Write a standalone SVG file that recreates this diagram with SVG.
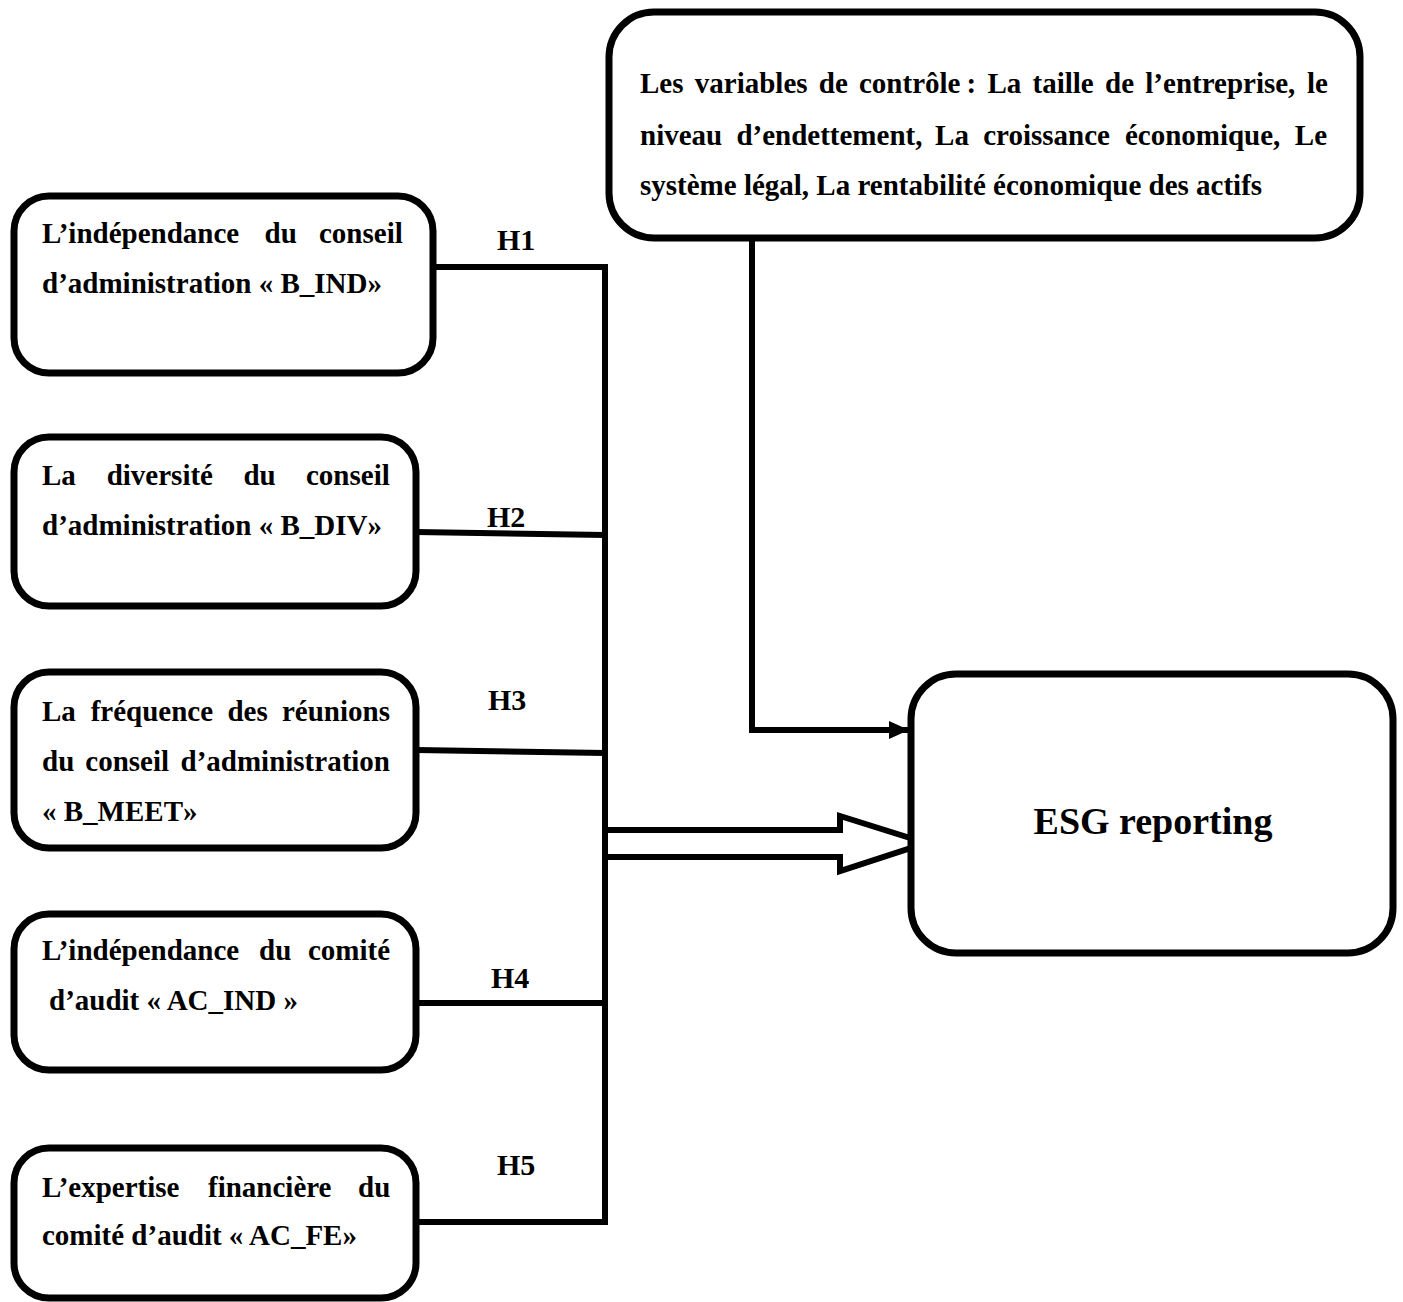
<svg xmlns="http://www.w3.org/2000/svg" width="1403" height="1302" viewBox="0 0 1403 1302">
  <style>
    .box { fill: #fff; stroke: #000; stroke-width: 7; }
    .lbl { font-family: "Liberation Serif", "Times New Roman", serif; font-weight: bold; font-size: 29px; fill: #000; }
    .hyp { font-family: "Liberation Serif", "Times New Roman", serif; font-weight: bold; font-size: 30px; fill: #000; }
    .big { font-family: "Liberation Serif", "Times New Roman", serif; font-weight: bold; font-size: 38px; fill: #000; }
    .wire { fill: none; stroke: #000; stroke-width: 6; }
  </style>
  <defs>
    <marker id="head" markerWidth="20" markerHeight="20" refX="19" refY="10" orient="auto" markerUnits="userSpaceOnUse" viewBox="0 0 20 20">
      <path d="M0,1 L20,10 L0,19 Z" fill="#000"/>
    </marker>
  </defs>

  <!-- connectors -->
  <g id="connectors">
    <path class="wire" d="M433,267 H605 V1225"/>
    <path class="wire" d="M416,532 L605,535"/>
    <path class="wire" d="M416,750 L605,753"/>
    <path class="wire" d="M416,1003 H605"/>
    <path class="wire" d="M416,1222 H605"/>
    <!-- control variables to ESG -->
    <path class="wire" d="M752,238 V730 H908" marker-end="url(#head)"/>
    <!-- hollow block arrow into ESG -->
    <path class="wire" d="M605,830 H840 V816 L926,843 L840,871 V857 H605"/>
    <text class="hyp" x="497" y="250">H1</text>
    <text class="hyp" x="487" y="527">H2</text>
    <text class="hyp" x="488" y="710">H3</text>
    <text class="hyp" x="491" y="988">H4</text>
    <text class="hyp" x="497" y="1175">H5</text>
  </g>

  <g id="control">
    <rect class="box" x="609" y="12" width="751" height="226" rx="45"/>
    <text class="lbl" y="93"><tspan x="640">Les</tspan><tspan x="694.8">variables</tspan><tspan x="818.8">de</tspan><tspan x="859">contrôle</tspan><tspan x="966.5">:</tspan><tspan x="987.5">La</tspan><tspan x="1032.5">taille</tspan><tspan x="1105">de</tspan><tspan x="1145.3">l’entreprise,</tspan><tspan x="1307">le</tspan></text>
    <text class="lbl" y="145"><tspan x="640">niveau</tspan><tspan x="736.4">d’endettement,</tspan><tspan x="935.1">La</tspan><tspan x="983.2">croissance</tspan><tspan x="1124.9">économique,</tspan><tspan x="1294.8">Le</tspan></text>
    <text class="lbl" x="640" y="195">système légal, La rentabilité économique des actifs</text>
  </g>

  <g id="b_ind">
    <rect class="box" x="14" y="196" width="419" height="177" rx="35"/>
    <text class="lbl" y="243"><tspan x="42">L’indépendance</tspan><tspan x="264.5">du</tspan><tspan x="319">conseil</tspan></text>
    <text class="lbl" x="42" y="293">d’administration « B_IND»</text>
  </g>

  <g id="b_div">
    <rect class="box" x="14" y="437" width="402" height="169" rx="35"/>
    <text class="lbl" y="485"><tspan x="42">La</tspan><tspan x="106.7">diversité</tspan><tspan x="243.4">du</tspan><tspan x="306">conseil</tspan></text>
    <text class="lbl" x="42" y="535">d’administration « B_DIV»</text>
  </g>

  <g id="b_meet">
    <rect class="box" x="14" y="672" width="402" height="176" rx="35"/>
    <text class="lbl" y="721"><tspan x="42">La</tspan><tspan x="90.7">fréquence</tspan><tspan x="227.4">des</tspan><tspan x="282">réunions</tspan></text>
    <text class="lbl" y="771"><tspan x="42">du</tspan><tspan x="85.3">conseil</tspan><tspan x="180.5">d’administration</tspan></text>
    <text class="lbl" x="42" y="821">« B_MEET»</text>
  </g>

  <g id="ac_ind">
    <rect class="box" x="14" y="914" width="402" height="156" rx="35"/>
    <text class="lbl" y="960"><tspan x="42">L’indépendance</tspan><tspan x="259">du</tspan><tspan x="308">comité</tspan></text>
    <text class="lbl" x="49" y="1010">d’audit « AC_IND »</text>
  </g>

  <g id="ac_fe">
    <rect class="box" x="14" y="1148" width="402" height="150" rx="35"/>
    <text class="lbl" y="1197"><tspan x="42">L’expertise</tspan><tspan x="208">financière</tspan><tspan x="358">du</tspan></text>
    <text class="lbl" x="42" y="1245">comité d’audit « AC_FE»</text>
  </g>

  <g id="esg">
    <rect class="box" x="911" y="674" width="482" height="279" rx="45"/>
    <text class="big" x="1153" y="834" text-anchor="middle">ESG reporting</text>
  </g>
</svg>
